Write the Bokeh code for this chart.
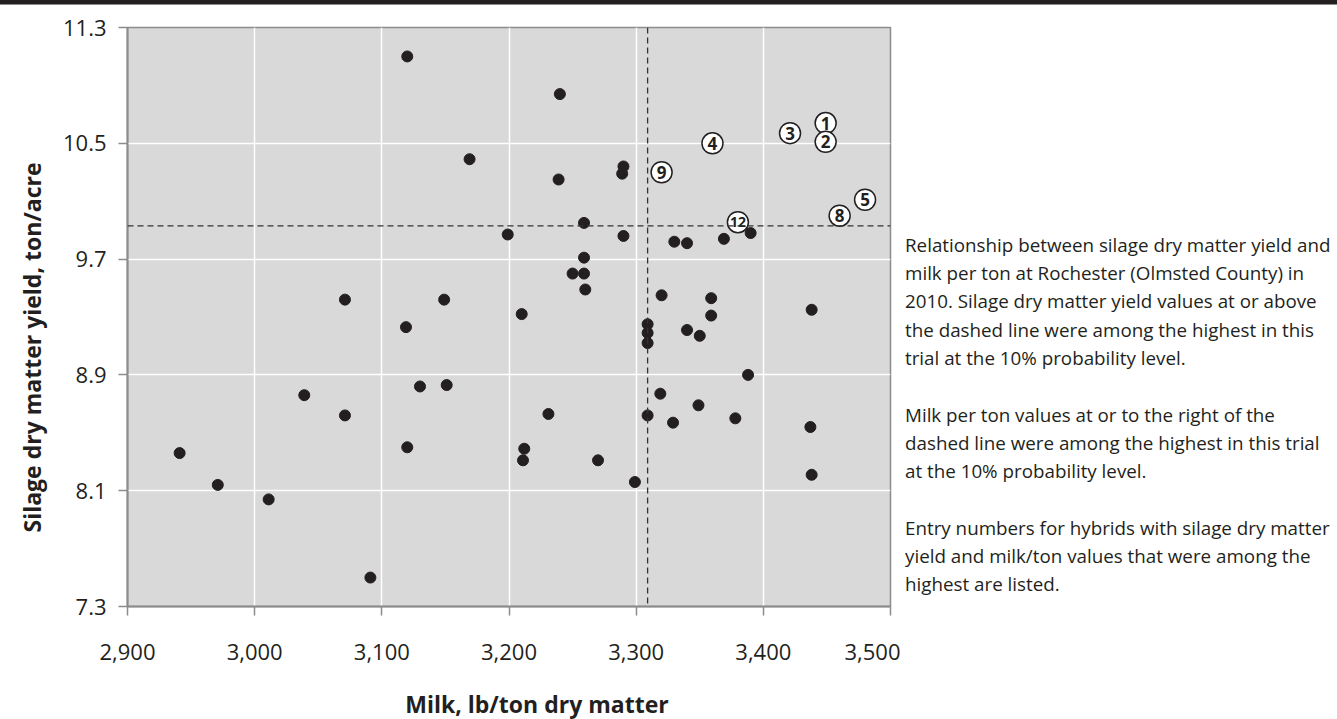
import numpy as np
from bokeh.plotting import figure
from bokeh.models import (FixedTicker, NumeralTickFormatter, Span, Title,
                          ColumnDataSource, Div)
from bokeh.layouts import column, row
from bokeh.embed import file_html
from bokeh.resources import INLINE
from bokeh.core.properties import value

# ---------------- data ----------------
milk = [3120, 3240, 3169, 3239, 3290, 3289, 3259, 3199, 3290, 3330,
        3340, 3369, 3390, 3259, 3250, 3259, 3260, 3320, 3359, 3359,
        3438, 3309, 3309, 3309, 3340, 3350, 3388, 3319, 3349, 3231,
        3309, 3329, 3378, 3437, 3270, 3071, 3149, 3119, 3210, 3130,
        3151, 3039, 3071, 2941, 3120, 3212, 3211, 2971, 3011, 3091,
        3299, 3438]
dm_yield = [11.10, 10.84, 10.39, 10.25, 10.34, 10.29, 9.95, 9.87, 9.86, 9.82,
            9.81, 9.84, 9.88, 9.71, 9.60, 9.60, 9.49, 9.45, 9.43, 9.31,
            9.35, 9.25, 9.19, 9.12, 9.21, 9.17, 8.90, 8.77, 8.69, 8.63,
            8.62, 8.57, 8.60, 8.54, 8.31, 9.42, 9.42, 9.23, 9.32, 8.82,
            8.83, 8.76, 8.62, 8.36, 8.40, 8.39, 8.31, 8.14, 8.04, 7.50,
            8.16, 8.21]

entry_ids = ["1", "2", "3", "4", "9", "5", "8", "12"]
entry_milk = [3449, 3449, 3421, 3360, 3320, 3480, 3460, 3380]
entry_yield = [10.64, 10.51, 10.57, 10.50, 10.30, 10.11, 10.00, 9.955]

x_ticks = [2900, 3000, 3100, 3200, 3300, 3400, 3500]
y_ticks = [7.3, 8.1, 8.9, 9.7, 10.5, 11.3]

milk_cut = 3309      # dashed line: highest milk/ton group
yield_cut = 9.93     # dashed line: highest yield group

x_title = "Milk, lb/ton dry matter"
y_title = "Silage dry matter yield, ton/acre"

caption_paragraphs = [
    ["Relationship between silage dry matter yield and",
     "milk per ton at Rochester (Olmsted County) in",
     "2010. Silage dry matter yield values at or above",
     "the dashed line were among the highest in this",
     "trial at the 10% probability level."],
    ["Milk per ton values at or to the right of the",
     "dashed line were among the highest in this trial",
     "at the 10% probability level."],
    ["Entry numbers for hybrids with silage dry matter",
     "yield and milk/ton values that were among the",
     "highest are listed."],
]

# ---------------- styling ----------------
FONT = "Open Sans"
INK = "#231f20"
X0, X1 = 2900, 3500
Y0, Y1 = 7.3, 11.3
FL, FR, FT, FB = 127, 890, 27, 606   # frame edges in page pixels
BAR = 5
PW = 900                              # figure width
XH = 45                               # height of x-title strip
PH = 719 - BAR - XH                   # figure height
LINE_H = 28.3

p = figure(width=PW, height=PH,
           x_range=(X0, X1), y_range=(Y0, Y1),
           output_backend="svg", toolbar_location=None,
           min_border_left=FL, min_border_right=PW - FR,
           min_border_top=FT - BAR, min_border_bottom=BAR + PH - FB,
           background_fill_color="#d9d9d9", border_fill_color="white",
           outline_line_color="#8c8c8c", outline_line_width=1.5)

p.xaxis.ticker = FixedTicker(ticks=x_ticks)
p.yaxis.ticker = FixedTicker(ticks=y_ticks)
p.xaxis.formatter = NumeralTickFormatter(format="0,0")
p.yaxis.formatter = NumeralTickFormatter(format="0.0")
for ax in (p.xaxis, p.yaxis):
    ax.axis_line_color = "#8c8c8c"
    ax.axis_line_width = 2
    ax.major_tick_line_color = "#8c8c8c"
    ax.major_tick_line_width = 1.5
    ax.major_tick_out = 9
    ax.major_tick_in = 0
    ax.minor_tick_line_color = None
    ax.major_label_text_font = FONT
    ax.major_label_text_font_size = "22px"
    ax.major_label_text_color = INK
p.xaxis.major_label_standoff = 28
p.yaxis.major_label_standoff = 12

p.grid.grid_line_color = "white"
p.grid.grid_line_width = 1.5

p.add_layout(Span(location=milk_cut, dimension="height", line_color="#333333",
                  line_dash="6 4", line_width=1.3))
p.add_layout(Span(location=yield_cut, dimension="width", line_color="#333333",
                  line_dash="6 4", line_width=1.3))

# circled entry numbers
ent = ColumnDataSource(dict(x=entry_milk, y=entry_yield, t=entry_ids,
                            fs=["17px" if len(t) == 1 else "14px" for t in entry_ids]))
p.scatter("x", "y", source=ent, size=21, fill_color="white",
          line_color=INK, line_width=1.5)
p.text("x", "y", text="t", source=ent, text_align="center",
       text_baseline="middle", text_font=value(FONT), text_font_style="bold",
       text_font_size="fs", text_color=INK)

# hybrid points
p.scatter(milk, dm_yield, size=11, fill_color=INK, line_color=INK)

# y-axis title as a side panel
p.add_layout(Title(text=y_title, align="left", offset=74, standoff=24,
                   text_font=FONT, text_font_size="23px",
                   text_font_style="bold", text_color=INK), "left")

# x-axis title strip under the chart
x_center = 537
x_mid = 704
xt = Div(text=x_title, width=PW, height=XH, margin=0,
         styles={"font-family": FONT, "font-size": "23px", "font-weight": "bold",
                 "color": INK, "line-height": "26px", "text-align": "center",
                 "white-space": "nowrap", "box-sizing": "border-box",
                 "padding-left": f"{2 * x_center - PW}px",
                 "padding-top": f"{x_mid - (BAR + PH) - 13}px"})

# caption (HTML block to the right of the chart)
cap_html = "<br><br>".join("<br>".join(par) for par in caption_paragraphs)
first_center = 245
cap = Div(text=cap_html, width=1337 - PW, height=719 - BAR, margin=0,
          styles={"font-family": FONT, "font-size": "18.8px", "color": INK,
                  "line-height": f"{LINE_H}px", "white-space": "nowrap",
                  "padding-left": f"{905 - PW}px",
                  "padding-top": f"{first_center - BAR - LINE_H / 2:.1f}px",
                  "box-sizing": "border-box"})

bar = Div(text="", width=1337, height=BAR, margin=0,
          styles={"background-color": INK, "border-bottom": "1px solid #8c8c8c",
                  "box-sizing": "border-box"})

layout = column(bar, row(column(p, xt, spacing=0), cap, spacing=0), spacing=0)
open("out.html", "w").write(file_html(layout, INLINE))
